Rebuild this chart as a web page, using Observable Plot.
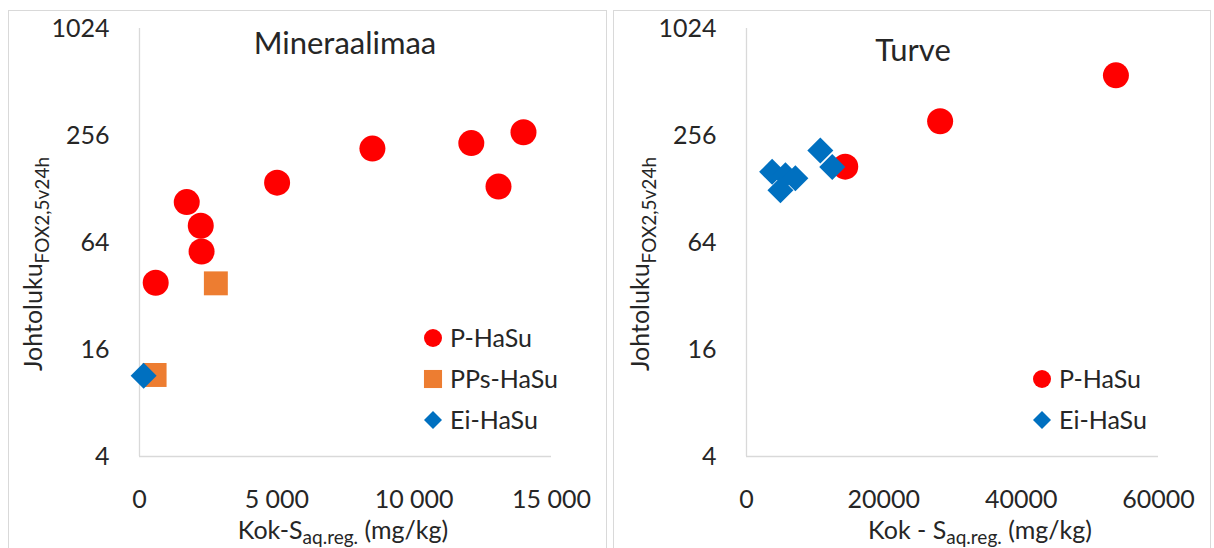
<!DOCTYPE html>
<html>
<head>
<meta charset="utf-8">
<script src="https://cdn.jsdelivr.net/npm/d3@7"></script>
<script src="https://cdn.jsdelivr.net/npm/@observablehq/plot@0.6"></script>
<style>
  body { margin: 0; background: #fff; font-family: Lato, "Open Sans", sans-serif; }
  #wrap { position: relative; width: 1214px; height: 548px; overflow: hidden; background: #fff; }
  .frame { position: absolute; border: 1px solid #d9d9d9; box-sizing: border-box; }
  .panel { position: absolute; top: 0; width: 607px; height: 548px; }
  .panel svg { overflow: visible; }
</style>
</head>
<body>
<div id="wrap">
  <div class="frame" style="left:8px;top:10px;width:599px;height:560px"></div>
  <div class="frame" style="left:613px;top:10px;width:598px;height:560px"></div>
  <div class="panel" id="left" style="left:0px"></div>
  <div class="panel" id="right" style="left:607px"></div>
</div>
<script>
// ---------- data ----------
const seriesNames = ["P-HaSu", "PPs-HaSu", "Ei-HaSu"];

// Mineraalimaa (left)
const mineralP_x   = [590, 1720, 2230, 2260, 5010, 8480, 12080, 13070, 13980];
const mineralP_y   = [38, 108, 79.5, 57, 139, 216, 232, 132, 267];
const mineralPPs_x = [2780, 550];
const mineralPPs_y = [37.7, 11.5];
const mineralEi_x  = [150];
const mineralEi_y  = [11.4];

// Turve (right)
const peatP_x  = [14380, 28200, 53800];
const peatP_y  = [171, 308, 558];
const peatEi_x = [10750, 12490, 3730, 5670, 7120, 4940];
const peatEi_y = [211, 170, 160, 153, 147, 126];

// ticks
const yTicks = [4, 16, 64, 256, 1024];
const leftXTicks = [0, 5000, 10000, 15000];
const leftXLabels = ["0", "5 000", "10 000", "15 000"];
const rightXTicks = [0, 20000, 40000, 60000];
const rightXLabels = ["0", "20000", "40000", "60000"];

// ---------- styles ----------
const styleOf = {
  "P-HaSu":   {color: "#FF0000", symbol: "circle",   r: 13,   lr: 9},
  "PPs-HaSu": {color: "#ED7D31", symbol: "square",   r: 13.5, lr: 10.2},
  "Ei-HaSu":  {color: "#0070C0", symbol: "diamond2", r: 11.7, lr: 8.1}
};
const d3Sym = {circle: d3.symbolCircle, square: d3.symbolSquare, diamond2: d3.symbolDiamond2};
const TEXT = "#262626";

function toRows(xs, ys) { return xs.map((x, i) => ({x, y: ys[i]})); }

function makePanel(cfg) {
  const marks = [
    Plot.ruleX([0], {stroke: "#d9d9d9", strokeWidth: 1.3}),
    Plot.ruleY([4], {stroke: "#d9d9d9", strokeWidth: 1.3})
  ];
  for (const s of cfg.series) {
    const st = styleOf[s.name];
    marks.push(Plot.dot(toRows(s.x, s.y), {
      x: "x", y: "y", symbol: st.symbol, r: st.r, fill: st.color, stroke: "none"
    }));
  }
  const svgEl = Plot.plot({
    width: 607, height: 548,
    marginLeft: 139, marginRight: 56, marginTop: 28, marginBottom: 92,
    style: {fontFamily: "Lato, 'Open Sans', sans-serif", fontSize: "25px", color: TEXT, background: "transparent", overflow: "visible"},
    x: {domain: cfg.xDomain, ticks: cfg.xTicks, tickFormat: d => cfg.xLabels[cfg.xTicks.indexOf(d)], tickSize: 0, tickPadding: 34, label: null},
    y: {type: "log", base: 2, domain: [4, 1024], ticks: yTicks, tickFormat: d => String(d), tickSize: 0, tickPadding: 30, label: null},
    marks
  });

  const svg = d3.select(svgEl);
  // Title
  svg.append("text")
    .attr("x", cfg.titleX).attr("y", cfg.titleY)
    .attr("text-anchor", "middle")
    .attr("fill", TEXT).style("font-size", "31px")
    .text(cfg.title);

  // Y axis title with subscript
  const yt = svg.append("text")
    .attr("transform", `translate(42,264) rotate(-90)`)
    .attr("text-anchor", "middle").attr("fill", TEXT).style("font-size", "25px");
  yt.append("tspan").text("Johtoluku");
  yt.append("tspan").attr("dy", 7).style("font-size", "19px").text("FOX2,5v24h");

  // X axis title with subscript
  const xt = svg.append("text")
    .attr("x", cfg.xTitleX).attr("y", 539)
    .attr("text-anchor", "middle").attr("fill", TEXT).style("font-size", "25px");
  xt.append("tspan").text(cfg.xTitleMain);
  xt.append("tspan").attr("dy", 5).style("font-size", "19px").text("aq.reg.");
  xt.append("tspan").attr("dy", -5).text(" (mg/kg)");

  // Legend
  const lg = svg.append("g");
  cfg.series.forEach((s, i) => {
    const st = styleOf[s.name];
    const cy = cfg.legendY0 + i * 41;
    lg.append("path")
      .attr("transform", `translate(${cfg.legendX},${cy})`)
      .attr("d", d3.symbol(d3Sym[st.symbol], Math.PI * st.lr * st.lr)())
      .attr("fill", st.color);
    lg.append("text")
      .attr("x", cfg.legendX + 17).attr("y", cy + 9)
      .attr("text-anchor", "start")
      .attr("fill", TEXT).style("font-size", "25px")
      .text(s.name);
  });
  return svgEl;
}

document.getElementById("left").appendChild(makePanel({
  title: "Mineraalimaa", titleX: 345, titleY: 54,
  xDomain: [0, 15000], xTicks: leftXTicks, xLabels: leftXLabels,
  xTitleMain: "Kok-S", xTitleX: 343,
  legendX: 433, legendY0: 338,
  series: [
    {name: seriesNames[0], x: mineralP_x, y: mineralP_y},
    {name: seriesNames[1], x: mineralPPs_x, y: mineralPPs_y},
    {name: seriesNames[2], x: mineralEi_x, y: mineralEi_y}
  ]
}));

document.getElementById("right").appendChild(makePanel({
  title: "Turve", titleX: 306, titleY: 61,
  xDomain: [0, 60000], xTicks: rightXTicks, xLabels: rightXLabels,
  xTitleMain: "Kok - S", xTitleX: 373,
  legendX: 435, legendY0: 379,
  series: [
    {name: seriesNames[0], x: peatP_x, y: peatP_y},
    {name: seriesNames[2], x: peatEi_x, y: peatEi_y}
  ]
}));
</script>
</body>
</html>
